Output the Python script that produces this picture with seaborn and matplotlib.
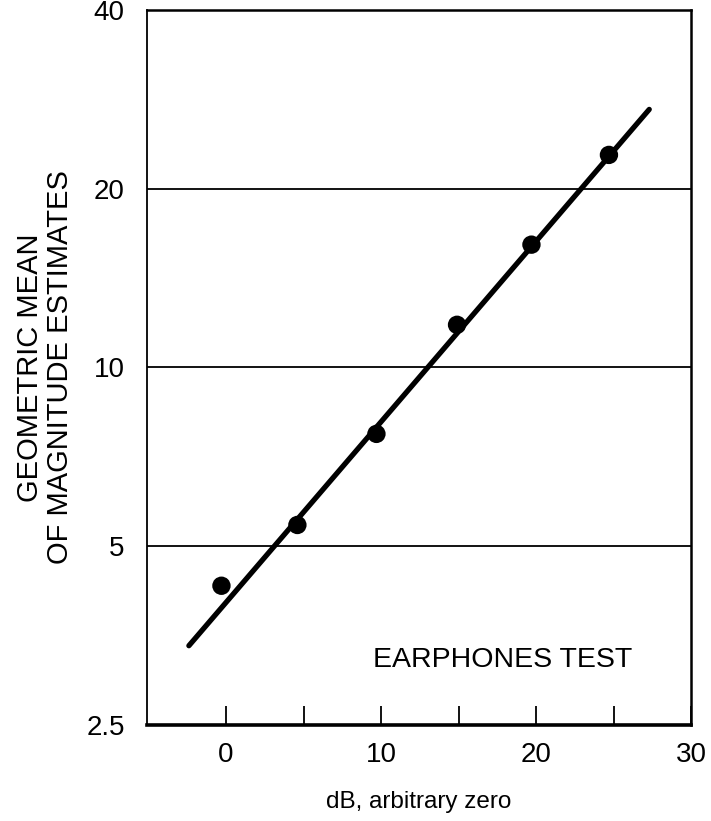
import matplotlib
matplotlib.use("Agg")
import matplotlib.pyplot as plt
import seaborn as sns
import pandas as pd
from matplotlib.ticker import FixedLocator, FixedFormatter, NullLocator

# Data
db_points = [-0.3, 4.6, 9.7, 14.9, 19.7, 24.7]
gm_points = [4.29, 5.43, 7.73, 11.8, 16.1, 22.8]
fit_x = [-2.4, 27.3]
fit_y = [3.4, 27.2]
x_ticks = [0, 5, 10, 15, 20, 25, 30]
x_tick_labels = ["0", "", "10", "", "20", "", "30"]
y_ticks = [2.5, 5, 10, 20, 40]
y_tick_labels = ["2.5", "5", "10", "20", "40"]
grid_levels = [5, 10, 20]

sns.set_style("white")
plt.rcParams["font.family"] = ["Liberation Sans", "DejaVu Sans"]
plt.rcParams["text.color"] = "black"
plt.rcParams["axes.labelcolor"] = "black"
plt.rcParams["xtick.color"] = "black"
plt.rcParams["ytick.color"] = "black"

fig = plt.figure(figsize=(7.11, 8.21), dpi=100)
ax = fig.add_axes([0.2068, 0.1169, 0.7652, 0.871])

ax.set_yscale("log")
ax.set_xlim(-5.1, 30)
ax.set_ylim(2.5, 40)

for g in grid_levels:
    ax.axhline(g, color="black", lw=1.3, zorder=1)

fit_df = pd.DataFrame({"x": fit_x, "y": fit_y})
pts_df = pd.DataFrame({"x": db_points, "y": gm_points})
sns.lineplot(data=fit_df, x="x", y="y", ax=ax, color="black", lw=3.8,
             solid_capstyle="round", zorder=3)
sns.scatterplot(data=pts_df, x="x", y="y", ax=ax, color="black", s=175,
                edgecolor="none", zorder=4)

ax.xaxis.set_major_locator(FixedLocator(x_ticks))
ax.xaxis.set_major_formatter(FixedFormatter(x_tick_labels))
ax.xaxis.set_minor_locator(NullLocator())
ax.tick_params(axis="x", which="major", direction="in", length=14, width=1.3,
               pad=12, labelsize=20, bottom=True, labelcolor="black")
ax.yaxis.set_major_locator(FixedLocator(y_ticks))
ax.yaxis.set_major_formatter(FixedFormatter(y_tick_labels))
ax.yaxis.set_minor_locator(NullLocator())
ax.tick_params(axis="y", which="major", length=0, pad=16, labelsize=20,
               labelcolor="black")

for side, w in [("left", 1.3), ("bottom", 2.6), ("top", 1.8), ("right", 1.8)]:
    ax.spines[side].set_visible(True)
    ax.spines[side].set_color("black")
    ax.spines[side].set_linewidth(w)

ax.set_xlabel("dB, arbitrary zero", fontsize=17.5, labelpad=17, color="black")
ax.set_ylabel("GEOMETRIC MEAN\nOF MAGNITUDE ESTIMATES", fontsize=21,
              labelpad=9, linespacing=1.1, color="black")
ax.text(9.5, 3.22, "EARPHONES TEST", fontsize=20.5, ha="left", va="center",
        color="black")

fig.savefig("out.png", dpi=100)
